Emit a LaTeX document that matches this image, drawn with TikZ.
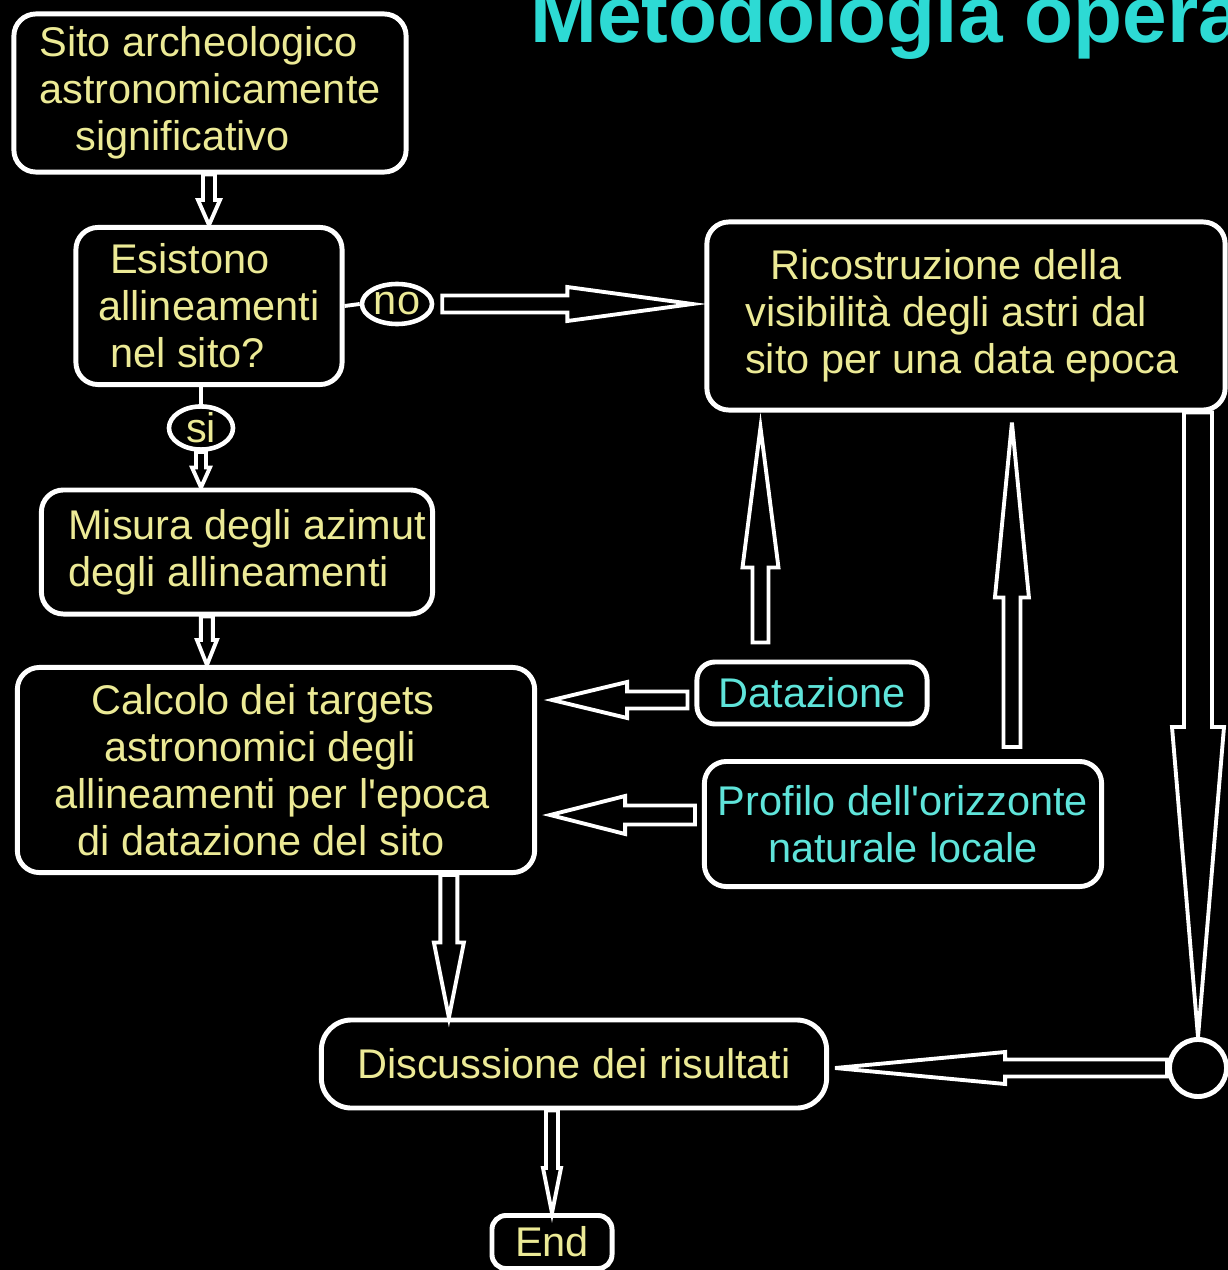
\documentclass[tikz,border=0pt]{standalone}
\usepackage{fontspec}
\setmainfont{Liberation Sans}
\usetikzlibrary{calc,shapes.geometric}

\colorlet{box edge}{white}
\definecolor{label yellow}{RGB}{236,234,150}
\definecolor{label cyan}{RGB}{95,228,218}
\definecolor{title cyan}{RGB}{45,218,212}

\tikzset{
  flowbox/.style={draw=box edge, line width=1.4pt, rounded corners=0.22cm, fill=black,
    inner sep=0pt, text=label yellow, font=\fontsize{11.8}{13.4}\selectfont},
  inputbox/.style={flowbox, text=label cyan},
  answer/.style={ellipse, draw=box edge, line width=1.3pt, inner sep=0pt,
    text=label yellow, font=\fontsize{11.8}{13.4}\selectfont},
  hollow/.style={draw=box edge, line width=1.1pt}
}

% block arrow: tail, tip, shaft half width, head half width, head length (px)
\newcommand{\hollowarrow}[5]{%
  \coordinate (ha-b) at ($(#2)!#5*0.01cm!(#1)$);
  \draw[hollow] ($(#1)!#3*0.01cm!90:(#2)$) -- ($(ha-b)!#3*0.01cm!-90:(#1)$)
    -- ($(ha-b)!#4*0.01cm!-90:(#1)$) -- (#2)
    -- ($(ha-b)!#4*0.01cm!90:(#1)$) -- ($(ha-b)!#3*0.01cm!90:(#1)$)
    -- ($(#1)!#3*0.01cm!-90:(#2)$) -- cycle;
}

\begin{document}
\begin{tikzpicture}[x=0.01cm, y=-0.01cm]
  \useasboundingbox (0,0) rectangle (1228,1270);
  \fill[black] (0,0) rectangle (1228,1270);

  \node[anchor=base west, text=title cyan, font=\fontsize{22.8}{26}\selectfont\bfseries]
    (title) at (518,43) {Metodologia opera};

  \node[flowbox, minimum width=3.92cm, minimum height=1.58cm, align=left] (sito) at (210,93)
    {Sito archeologico\\astronomicamente\\\hspace*{0.36cm}significativo};
  \node[flowbox, minimum width=2.66cm, minimum height=1.57cm, align=left] (esist) at (209,306)
    {\hspace*{0.12cm}Esistono\\allineamenti\\\hspace*{0.12cm}nel sito?};
  \node[answer, minimum width=0.7cm, minimum height=0.4cm] (no) at (397,304) {no};
  \node[answer, minimum width=0.64cm, minimum height=0.4cm] (si) at (201,428) {si};
  \node[flowbox, minimum width=3.91cm, minimum height=1.24cm, align=left] (misura) at (237,552)
    {\hspace*{0.2cm}Misura degli azimut\\\hspace*{0.2cm}degli allineamenti};
  \node[flowbox, minimum width=5.17cm, minimum height=2.05cm, align=center] (calcolo) at (276,770)
    {Calcolo dei targets\kern0.26cm\\astronomici degli\kern0.32cm\\
     allineamenti per l\textquotesingle epoca\kern0.08cm\\di datazione del sito\kern0.3cm};
  \node[flowbox, minimum width=5.18cm, minimum height=1.88cm, align=center] (ricos) at (966,316)
    {Ricostruzione della\kern0.4cm\\visibilità degli astri dal\kern0.4cm\\sito per una data epoca\kern0.08cm};
  \node[inputbox, minimum width=2.30cm, minimum height=0.62cm, rounded corners=0.18cm] (dataz) at (812,693)
    {Datazione};
  \node[inputbox, minimum width=3.97cm, minimum height=1.25cm, align=center] (profilo) at (903,824)
    {Profilo dell\textquotesingle orizzonte\\naturale locale};
  \node[flowbox, minimum width=5.05cm, minimum height=0.88cm, rounded corners=0.3cm] (discus) at (574,1064)
    {Discussione dei risultati};
  \node[flowbox, minimum width=1.2cm, minimum height=0.53cm, rounded corners=0.14cm] (end) at (552,1242)
    {End};
  \node[circle, draw=box edge, line width=1.4pt, minimum size=0.57cm, inner sep=0pt] (junc) at (1198,1068) {};

  % plain joins to the answers
  \draw[hollow] (esist.east) -- (no.west);
  \draw[hollow] (si.north |- esist.south) -- (si.north);

  % arrow ends
  \coordinate (s1) at (sito.south -| esist.north);
  \coordinate (n1) at ($(no.east)+(8,0)$);
  \coordinate (n2) at ($(no.east -| ricos.west)+(-12,0)$);
  \coordinate (y1) at (si.south |- misura.north);
  \coordinate (m1) at ($(misura.south west)+(168,0)$);
  \coordinate (m2) at (m1 |- calcolo.north);
  \coordinate (d0) at ($(dataz.west)+(-7,7)$);
  \coordinate (d1) at ($(d0 -| calcolo.east)+(15,0)$);
  \coordinate (p1) at ($(profilo.west)+(-7,-9)$);
  \coordinate (p2) at ($(p1 -| calcolo.east)+(13,0)$);
  \coordinate (d3) at ($(dataz.north west)+(66,-17)$);
  \coordinate (d4) at ($(d3 |- ricos.south)+(0,15)$);
  \coordinate (p3) at ($(profilo.north west)+(310,-12)$);
  \coordinate (p4) at ($(p3 |- ricos.south)+(0,10)$);
  \coordinate (r1) at (junc.north |- ricos.south);
  \coordinate (j1) at ($(junc.west -| discus.east)+(6,0)$);
  \coordinate (c1) at ($(calcolo.south west)+(434,0)$);
  \coordinate (c2) at (c1 |- discus.north);
  \coordinate (e1) at (end.north |- discus.south);

  \foreach \tail/\tip/\sw/\hw/\hl in {s1/esist.north/6/11/25, n1/n2/8.5/17/125,
      si.south/y1/5/9/20, m1/m2/6/10/25, d0/d1/8.5/18/75, p1/p2/9.5/19/75,
      d3/d4/8/18/140, p3/p4/8.5/17/175, r1/junc.north/14/26/310,
      junc.west/j1/8.5/16/170, c1/c2/8.5/15/75, e1/end.north/6/9/45}
    \hollowarrow{\tail}{\tip}{\sw}{\hw}{\hl};
\end{tikzpicture}
\end{document}
